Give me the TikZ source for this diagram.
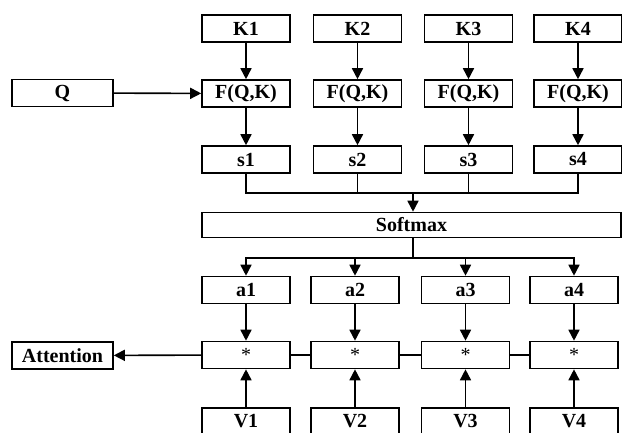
\documentclass[tikz,border=0pt]{standalone}
\usepackage{fontspec}
\setmainfont{Liberation Serif}
\usetikzlibrary{arrows.meta}
\tikzset{
  bx/.style={draw, line width=1.6pt, minimum height=27pt, minimum width=88pt, inner sep=0pt, font=\fontsize{20}{22}\selectfont\bfseries},
  sb/.style={draw, line width=1.6pt, minimum height=27pt, minimum width=88pt, inner sep=0pt, font=\fontsize{20}{22}\selectfont},
  ln/.style={line width=1.6pt},
  ar/.style={line width=1.6pt, -{Triangle[length=11pt,width=11pt]}},
}
\begin{document}
\begin{tikzpicture}[x=1pt,y=-1pt]
\useasboundingbox (0,0) rectangle (622,432);
% top half
\foreach \i/\x in {1/246,2/357.5,3/468.5,4/578}{
  \node[bx] (k\i) at (\x,28.5) {K\i};
  \node[bx] (f\i) at (\x,93.5) {F(Q,K)};
  \node[bx] (s\i) at (\x,159.5) {s\i};
  \draw[ar] (k\i) -- (f\i);
  \draw[ar] (f\i) -- (s\i);
}
\node[bx, minimum width=101pt] (q) at (62.5,93) {Q};
\draw[ar] (q) -- (f1);
\node[bx, minimum width=419pt, minimum height=25pt] (sm) at (411.5,225) {Softmax};
\coordinate (j) at (413,193);
\coordinate (sp) at (413,258);
\draw[ln] (s1.south) |- (j) -| (s4.south);
\draw[ln] (s2.south) |- (j);
\draw[ln] (s3.south) |- (j);
\draw[ar] (j) -- (sm.north -| j);
\draw[ln] (sm.south -| sp) -- (sp);
% bottom half
\foreach \i/\x in {1/246,2/355,3/465.5,4/574}{
  \node[bx] (a\i) at (\x,290) {a\i};
  \node[sb] (m\i) at (\x,355) {*};
  \node[bx] (v\i) at (\x,421.5) {V\i};
  \draw[ar] (a\i) -- (m\i);
  \draw[ar] (v\i) -- (m\i);
}
\draw[ar] (sp) -| (a1.north);
\draw[ar] (sp) -| (a4.north);
\draw[ar] (sp) -| (a2.north);
\draw[ar] (sp) -| (a3.north);
\draw[ln] (m1) -- (m2);
\draw[ln] (m2) -- (m3);
\draw[ln] (m3) -- (m4);
\node[bx, minimum width=101pt] (att) at (62.5,355.5) {Attention};
\draw[ar] (m1) -- (att);
\end{tikzpicture}
\end{document}
